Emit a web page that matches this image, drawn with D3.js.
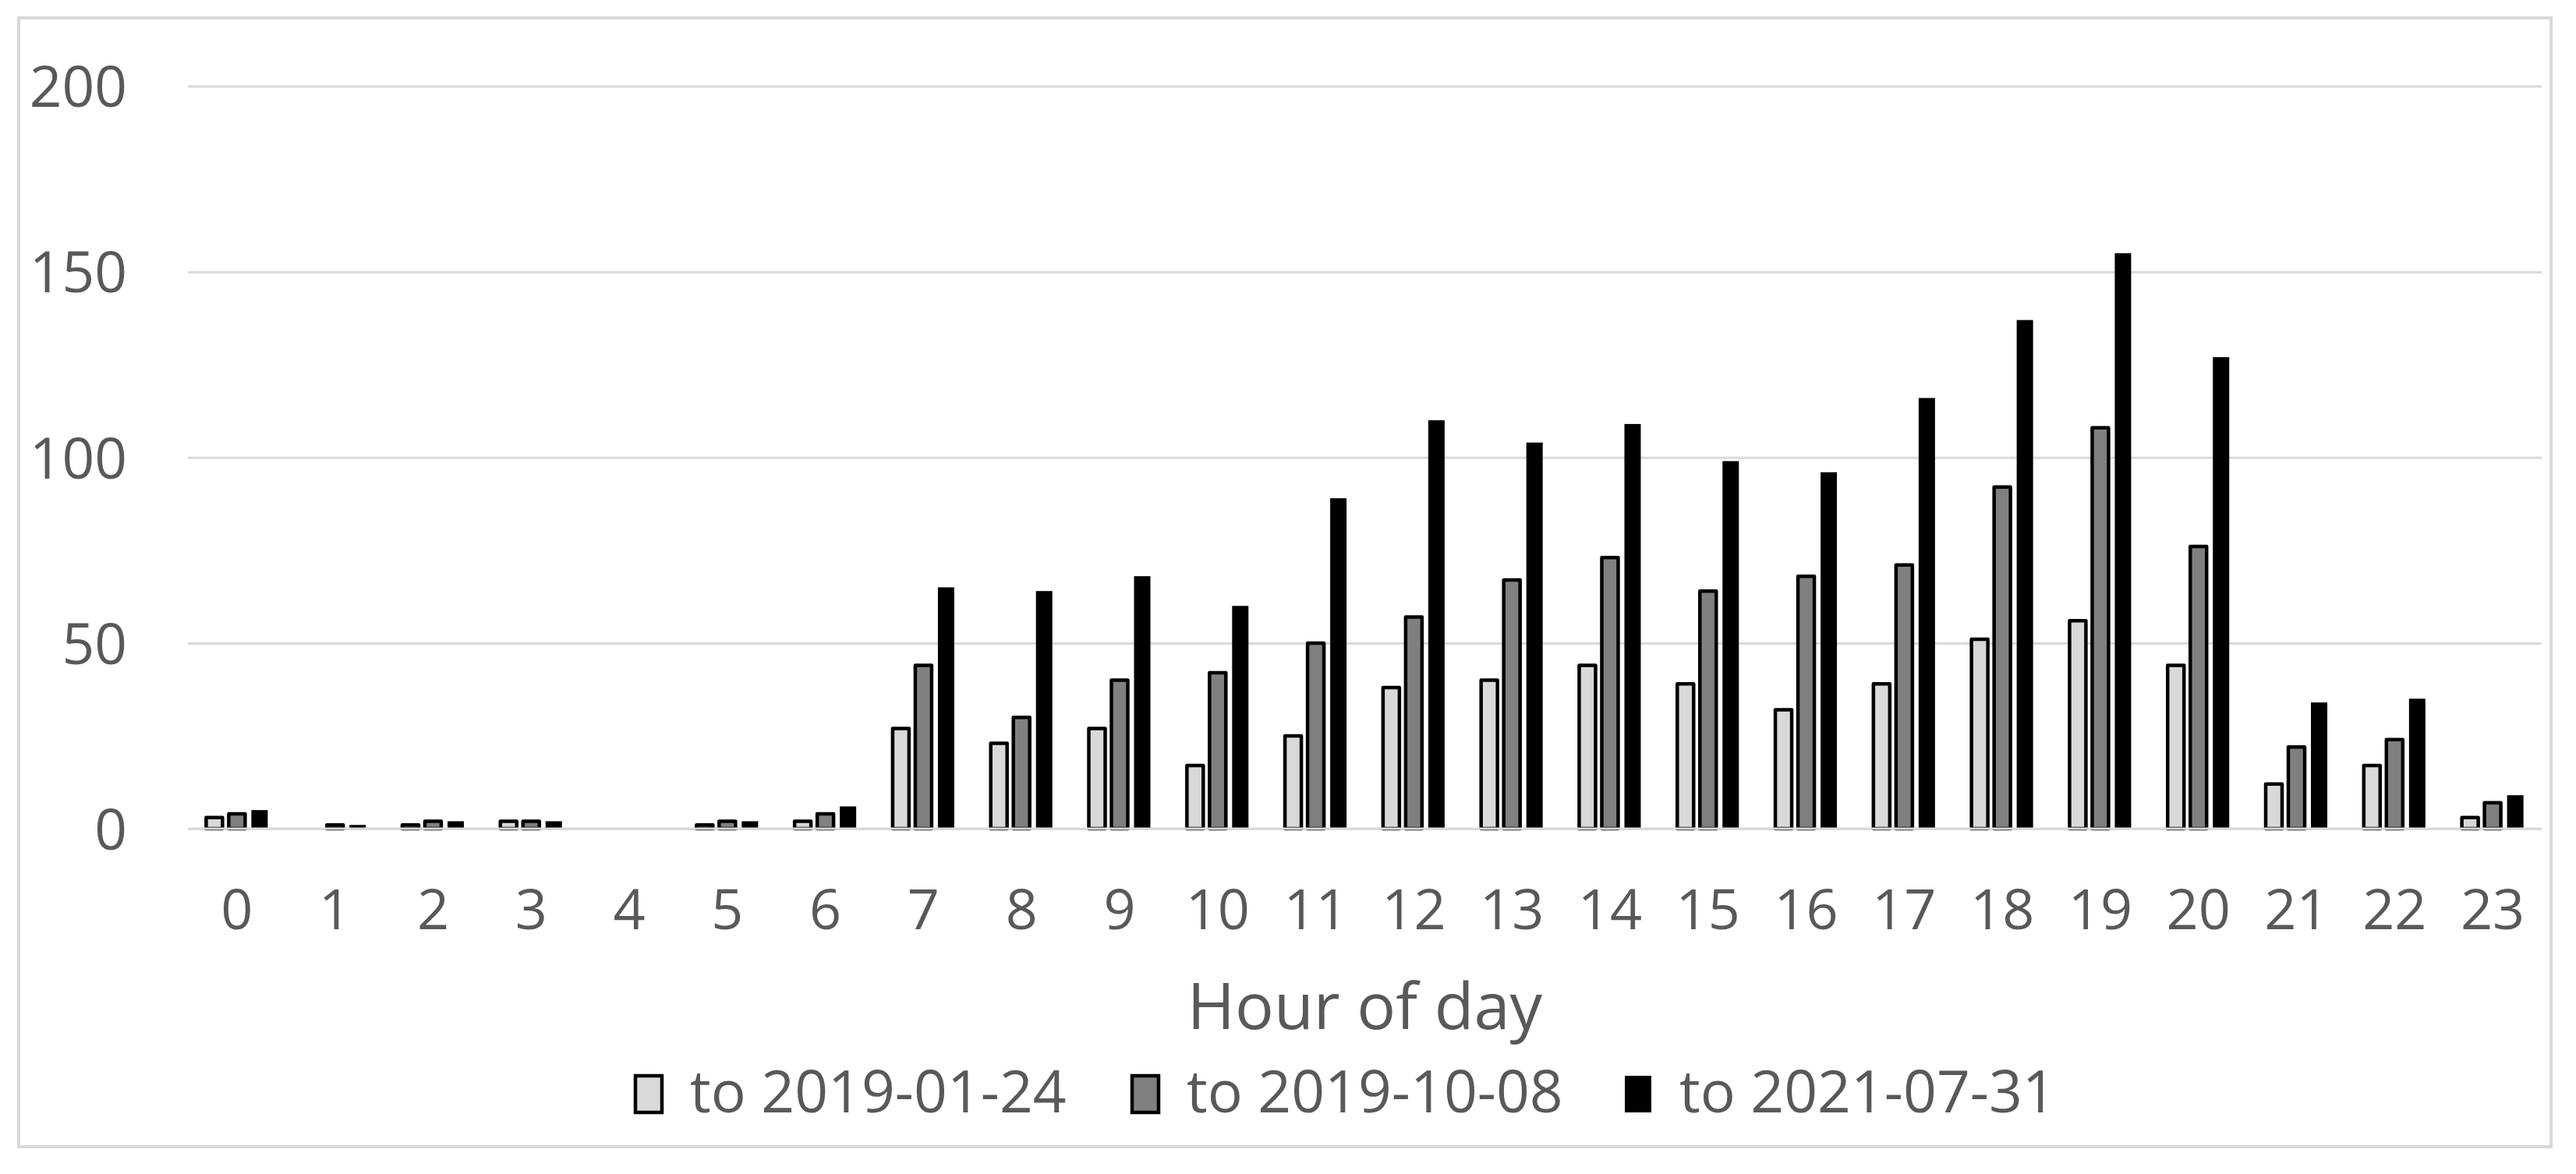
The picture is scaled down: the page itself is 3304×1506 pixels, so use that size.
<!DOCTYPE html>
<html>
<head>
<meta charset="utf-8">
<script src="https://cdn.jsdelivr.net/npm/d3@7"></script>
<style>
  html, body { margin: 0; padding: 0; background: #ffffff; }
  svg { display: block; }
</style>
</head>
<body>
<svg id="chart" width="3304" height="1506"></svg>
<script>
// ---- data ----
const hours = ["0","1","2","3","4","5","6","7","8","9","10","11","12","13","14","15","16","17","18","19","20","21","22","23"];
const seriesNames = ["to 2019-01-24", "to 2019-10-08", "to 2021-07-31"];
const to20190124 = [3,0,1,2,0,1,2,27,23,27,17,25,38,40,44,39,32,39,51,56,44,12,17,3];
const to20191008 = [4,1,2,2,0,2,4,44,30,40,42,50,57,67,73,64,68,71,92,108,76,22,24,7];
const to20210731 = [5,1,2,2,0,2,6,65,64,68,60,89,110,104,109,99,96,116,137,155,127,34,35,9];
const yTicks = [0, 50, 100, 150, 200];
const xTitle = "Hour of day";

const seriesValues = [to20190124, to20191008, to20210731];
const fills = ["#d9d9d9", "#808080", "#000000"];
const strokes = ["#000000", "#000000", "none"];

// ---- layout ----
const svg = d3.select("#chart");
const W = 3304, H = 1506;
const plot = { left: 241, right: 3260, top: 110.5, bottom: 1063 };
const FONT = "'Open Sans', 'Noto Sans', sans-serif";
const TEXT = "#595959";
const GRID = "#d9d9d9";

svg.append("rect").attr("x", 0).attr("y", 0).attr("width", W).attr("height", H).attr("fill", "#fff");
// outer frame
svg.append("rect")
  .attr("x", 24).attr("y", 23).attr("width", 3272 - 24).attr("height", 1471 - 23)
  .attr("fill", "none").attr("stroke", GRID).attr("stroke-width", 4);

const x = d3.scaleBand().domain(hours).range([plot.left, plot.right]).padding(0);
const groupW = 87;
const x1 = d3.scaleBand().domain(seriesNames).range([0, groupW]).paddingInner(8/29).paddingOuter(4/29);
const y = d3.scaleLinear().domain([0, 200]).range([plot.bottom, plot.top]);

// gridlines
const yAxis = d3.axisLeft(y).tickValues(yTicks).tickSize(-(plot.right - plot.left)).tickPadding(78).tickFormat(d3.format("d"));
const gy = svg.append("g").attr("transform", `translate(${plot.left},0)`).call(yAxis);
gy.select(".domain").remove();
gy.selectAll(".tick line").attr("stroke", GRID).attr("stroke-width", 3);
gy.selectAll(".tick text")
  .attr("fill", TEXT).attr("font-family", FONT).attr("font-size", 73)
  .attr("dy", "0.36em");

// bars
const data = hours.map((h, i) => ({ hour: h, vals: seriesNames.map((s, k) => ({ s, k, v: seriesValues[k][i] })) }));
const groups = svg.append("g").selectAll("g").data(data).join("g")
  .attr("transform", d => `translate(${x(d.hour) + x.bandwidth() / 2 - groupW / 2},0)`);
groups.selectAll("rect").data(d => d.vals.filter(e => e.v > 0)).join("rect")
  .attr("x", e => x1(e.s))
  .attr("width", x1.bandwidth())
  .attr("y", e => y(e.v))
  .attr("height", e => y(0) - y(e.v))
  .attr("fill", e => fills[e.k])
  .attr("stroke", e => strokes[e.k])
  .attr("stroke-width", 4.5)
  .attr("stroke-linejoin", "round");

// baseline
svg.append("line")
  .attr("x1", plot.left).attr("x2", plot.right)
  .attr("y1", y(0)).attr("y2", y(0))
  .attr("stroke", GRID).attr("stroke-width", 3);

// x axis labels
const xAxis = d3.axisBottom(x).tickSize(0).tickPadding(129);
const gx = svg.append("g").attr("transform", `translate(0,${plot.bottom})`).call(xAxis);
gx.select(".domain").remove();
gx.selectAll(".tick text")
  .attr("fill", TEXT).attr("font-family", FONT).attr("font-size", 72)
  .attr("dy", "0");

// x axis title
svg.append("text")
  .attr("x", (plot.left + plot.right) / 2).attr("y", 1320)
  .attr("text-anchor", "middle")
  .attr("fill", TEXT).attr("font-family", FONT).attr("font-size", 83)
  .text(xTitle);

// legend
const legendX = [813, 1450, 2082];
const leg = svg.append("g").selectAll("g").data(seriesNames).join("g")
  .attr("transform", (d, i) => `translate(${legendX[i]},0)`);
leg.append("rect")
  .attr("x", 2).attr("y", 1380).attr("width", 34).attr("height", 47)
  .attr("fill", (d, i) => fills[i])
  .attr("stroke", "#000").attr("stroke-width", (d, i) => i < 2 ? 4.5 : 0);
leg.append("text")
  .attr("x", 72).attr("y", 1427)
  .attr("fill", TEXT).attr("font-family", FONT).attr("font-size", 75)
  .text(d => d);
</script>
</body>
</html>
